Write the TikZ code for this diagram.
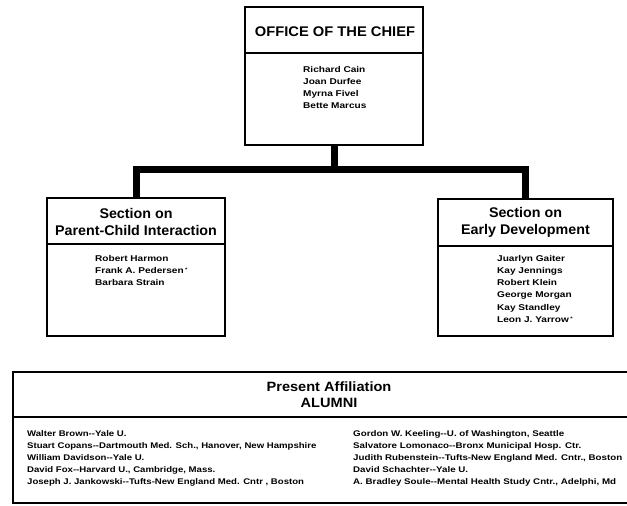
\documentclass[tikz,border=0pt]{standalone}
\usepackage{fontspec}
\setmainfont{Liberation Sans}
\newcommand{\starmark}{\,\raisebox{1.5pt}{\tiny *}}
\newcommand{\widen}[1]{\addfontfeature{FakeStretch=#1}}
\begin{document}
\begin{tikzpicture}[x=1pt,y=-1pt,
  box/.style={draw=black, line width=1.8pt, rectangle, inner sep=0pt},
  divider/.style={line width=1.6pt},
  conn/.style={line width=7pt, line join=miter, line cap=butt},
  names/.style={anchor=north west, align=left, inner sep=0pt,
     font=\fontsize{8.4}{12.2}\selectfont\bfseries\widen{1.2}},
  alum/.style={anchor=north west, align=left, inner sep=0pt,
     font=\fontsize{8.2}{12}\selectfont\bfseries\widen{1.17}},
  title/.style={align=center, inner sep=0pt,
     font=\fontsize{14}{17}\selectfont\bfseries\widen{1.02}}]
\fill[white] (0,0) rectangle (627,506);
\clip (0,0) rectangle (627,506);
\useasboundingbox (0,0) rectangle (627,506);
% boxes
\node[box, minimum width=178pt, minimum height=138pt] (chief) at (334,76) {};
\node[box, minimum width=178pt, minimum height=138pt] (pci) at (136,267) {};
\node[box, minimum width=175pt, minimum height=137pt] (ed) at (525.5,267.5) {};
\node[box, minimum width=640pt, minimum height=131pt] (alum) at (333,437.5) {};
% dividers
\draw[divider] (chief.west |- 0,53) -- (chief.east |- 0,53);
\draw[divider] (pci.west |- 0,244) -- (pci.east |- 0,244);
\draw[divider] (ed.west |- 0,246) -- (ed.east |- 0,246);
\draw[divider] (alum.west |- 0,417) -- (alum.east |- 0,417);
% connectors
\coordinate (bus) at (334,169);
\draw[conn] (chief.south) -- (bus);
\draw[conn] (pci.north) |- (bus) -| (ed.north);
% titles
\node[title, font=\fontsize{14}{15}\selectfont\bfseries\widen{1.05}] (chieft) at (335,32) {OFFICE OF THE CHIEF};
\node[title] (pcit) at (136,221.5) {Section on\\Parent-Child Interaction};
\node[title] (edt) at (525.5,222.5) {Section on\\Early Development};
\node[title, font=\fontsize{13.5}{16}\selectfont\bfseries\widen{1.08}] (alumt) at (329,395) {Present Affiliation\\ALUMNI};
% names
\node[names] (chiefn) at (303,66) {Richard Cain\\Joan Durfee\\Myrna Fivel\\Bette Marcus};
\node[names] (pcin) at (95,255) {Robert Harmon\\Frank A. Pedersen\starmark\\Barbara Strain};
\node[names] (edn) at (497,255) {Juarlyn Gaiter\\Kay Jennings\\Robert Klein\\George Morgan\\Kay Standley\\Leon J. Yarrow\starmark};
\node[alum] (aleft) at (27,430.5) {Walter Brown-{}-Yale U.\\
Stuart Copans-{}-Dartmouth Med. Sch., Hanover, New Hampshire\\
William Davidson-{}-Yale U.\\
David Fox-{}-Harvard U., Cambridge, Mass.\\
Joseph J. Jankowski-{}-Tufts-New England Med. Cntr , Boston};
\node[alum, font=\fontsize{8.2}{12}\selectfont\bfseries\widen{1.19}] (aright) at (353,430.5) {Gordon W. Keeling-{}-U. of Washington, Seattle\\
Salvatore Lomonaco-{}-Bronx Municipal Hosp. Ctr.\\
Judith Rubenstein-{}-Tufts-New England Med. Cntr., Boston\\
David Schachter-{}-Yale U.\\
A. Bradley Soule-{}-Mental Health Study Cntr., Adelphi, Md};
\end{tikzpicture}
\end{document}
